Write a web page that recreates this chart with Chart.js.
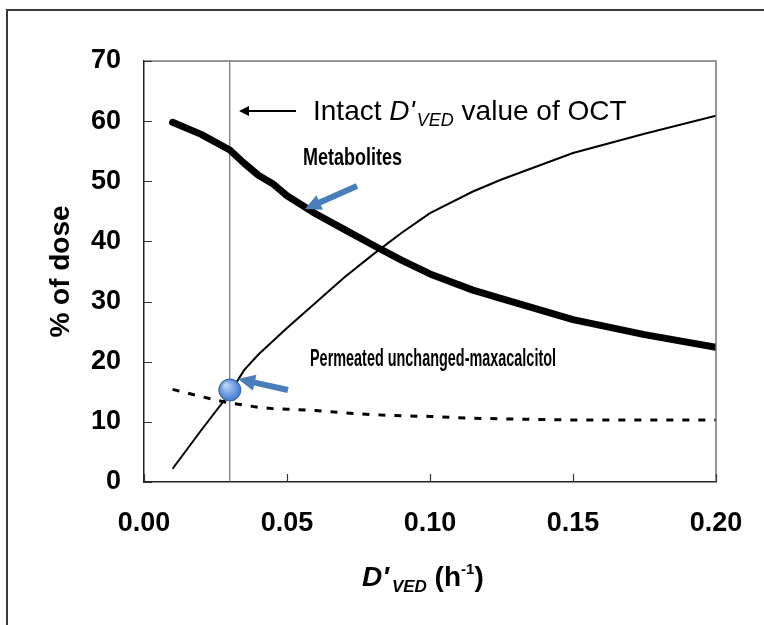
<!DOCTYPE html>
<html>
<head>
<meta charset="utf-8">
<script src="https://cdn.jsdelivr.net/npm/chart.js@4.4.1/dist/chart.umd.min.js"></script>
<style>
body{margin:0;background:#fff;}
canvas{display:block;}
</style>
</head>
<body>
<canvas id="mycanvas" width="764" height="625"></canvas>
<script>
// values
var dose = [0.01, 0.02, 0.03, 0.035, 0.04, 0.045, 0.05, 0.06, 0.07, 0.08, 0.09, 0.10, 0.115, 0.125, 0.15, 0.175, 0.20];
var metabolites = [59.8, 57.8, 55.2, 53.0, 51.0, 49.6, 47.6, 44.6, 42.0, 39.4, 36.9, 34.6, 31.9, 30.5, 27.0, 24.5, 22.4];
var permeated = [2.2, 8.6, 14.8, 18.6, 21.2, 23.4, 25.6, 29.8, 34.0, 37.8, 41.4, 44.7, 48.3, 50.3, 54.7, 57.9, 60.9];
var residual = [15.4, 14.2, 13.1, 12.8, 12.4, 12.2, 12.1, 11.9, 11.5, 11.2, 11.0, 10.9, 10.6, 10.5, 10.3, 10.3, 10.3];
var intactDose = 0.03;
var intactValue = 15.3;
var xTicks = [0, 0.05, 0.10, 0.15, 0.20];
var yTicks = [0, 10, 20, 30, 40, 50, 60, 70];

var FONT = '"Liberation Sans", Arial, sans-serif';

function pts(xs, ys){
	var out = [];
	for (var i in xs) out.push({x: xs[i], y: ys[i]});
	return out;
}

function blockArrow(ctx, x1, y1, x2, y2, shaft, head, headLen, color){
	var a = Math.atan2(y2 - y1, x2 - x1);
	var len = Math.hypot(x2 - x1, y2 - y1);
	ctx.save();
	ctx.translate(x1, y1);
	ctx.rotate(a);
	ctx.fillStyle = color;
	ctx.beginPath();
	ctx.moveTo(0, -shaft/2);
	ctx.lineTo(len - headLen, -shaft/2);
	ctx.lineTo(len - headLen, -head/2);
	ctx.lineTo(len, 0);
	ctx.lineTo(len - headLen, head/2);
	ctx.lineTo(len - headLen, shaft/2);
	ctx.lineTo(0, shaft/2);
	ctx.closePath();
	ctx.fill();
	ctx.restore();
}

function narrowText(ctx, txt, x, y, width, size){
	ctx.save();
	ctx.font = 'bold ' + size + 'px ' + FONT;
	var w = ctx.measureText(txt).width;
	ctx.translate(x, y);
	ctx.scale(width / w, 1);
	ctx.textBaseline = 'alphabetic';
	ctx.fillStyle = '#000';
	ctx.fillText(txt, 0, 0);
	ctx.restore();
}

var decor = {
	id: 'decor',
	beforeDraw: function(chart){
		var ctx = chart.ctx;
		ctx.save();
		ctx.fillStyle = '#fff';
		ctx.fillRect(0, 0, chart.width, chart.height);
		ctx.strokeStyle = '#3a3a3a';
		ctx.lineWidth = 2;
		ctx.strokeRect(7, 10, 900, 900);
		ctx.restore();
	},
	afterDatasetsDraw: function(chart){
		var ctx = chart.ctx;
		var a = chart.chartArea;
		var xs = chart.scales.x, ys = chart.scales.y;
		ctx.save();
		// top / right frame
		ctx.strokeStyle = '#777';
		ctx.lineWidth = 1.5;
		ctx.beginPath();
		ctx.moveTo(a.left, a.top);
		ctx.lineTo(a.right, a.top);
		ctx.lineTo(a.right, a.bottom);
		ctx.stroke();
		// inward ticks
		ctx.strokeStyle = '#333';
		ctx.lineWidth = 1.2;
		ctx.beginPath();
		yTicks.forEach(function(v){
			var py = Math.round(ys.getPixelForValue(v)) + 0.5;
			ctx.moveTo(a.left, py); ctx.lineTo(a.left + 8, py);
		});
		xTicks.forEach(function(v){
			var px = Math.round(xs.getPixelForValue(v)) + 0.5;
			ctx.moveTo(px, a.bottom); ctx.lineTo(px, a.bottom - 8);
		});
		ctx.stroke();

		// axis titles
		ctx.fillStyle = '#000';
		ctx.save();
		ctx.translate(61, (a.top + a.bottom) / 2);
		ctx.rotate(-Math.PI / 2);
		ctx.font = 'bold 28px ' + FONT;
		ctx.textAlign = 'center';
		ctx.textBaseline = 'middle';
		ctx.fillText('% of dose', 0, 0);
		ctx.restore();

		var x = 362, base = 586;
		ctx.textBaseline = 'alphabetic';
		ctx.font = 'italic bold 28px ' + FONT;
		ctx.fillText("D'", x, base); x += ctx.measureText("D'").width + 3;
		ctx.font = 'italic bold 17px ' + FONT;
		ctx.fillText('VED', x, base + 6); x += ctx.measureText('VED').width;
		ctx.font = 'bold 28px ' + FONT;
		ctx.fillText(' (h', x, base); x += ctx.measureText(' (h').width;
		ctx.font = 'bold 15px ' + FONT;
		ctx.fillText('-1', x, base - 12); x += ctx.measureText('-1').width;
		ctx.font = 'bold 28px ' + FONT;
		ctx.fillText(')', x, base);

		// intact D'VED note
		ctx.strokeStyle = '#000';
		ctx.lineWidth = 2;
		ctx.beginPath();
		ctx.moveTo(296, 111); ctx.lineTo(244, 111);
		ctx.stroke();
		ctx.beginPath();
		ctx.moveTo(239, 111); ctx.lineTo(249, 106); ctx.lineTo(249, 116); ctx.closePath();
		ctx.fill();
		x = 313; base = 120;
		ctx.font = '28px ' + FONT;
		ctx.fillText('Intact ', x, base); x += ctx.measureText('Intact ').width;
		ctx.font = 'italic 28px ' + FONT;
		ctx.fillText("D'", x, base); x += ctx.measureText("D'").width + 2;
		ctx.font = 'italic 18px ' + FONT;
		ctx.fillText('VED', x, base + 6); x += ctx.measureText('VED').width;
		ctx.font = '28px ' + FONT;
		ctx.fillText(' value of OCT', x, base);

		// series labels
		narrowText(ctx, 'Metabolites', 303, 165, 99, 24);
		narrowText(ctx, 'Permeated unchanged-maxacalcitol', 310, 366, 246, 24);

		blockArrow(ctx, 357, 186, 305, 209, 6, 16, 16, '#4a7ebb');
		blockArrow(ctx, 288, 390, 238, 379, 6, 16, 17, '#4a7ebb');
		ctx.restore();
	}
};

var ctx = document.getElementById('mycanvas').getContext('2d');
var chart = new Chart(ctx, {
	type: 'line',
	data: {
		datasets: [
		{
			label: 'intact',
			data: [{x: intactDose, y: intactValue}],
			showLine: false,
			pointRadius: 11,
			pointBorderWidth: 1,
			pointBorderColor: '#2f5f9e',
			pointBackgroundColor: function(c){
				var ch = c.chart;
				if (!ch.chartArea) return '#5b8fd6';
				var px = ch.scales.x.getPixelForValue(intactDose);
				var py = ch.scales.y.getPixelForValue(intactValue);
				var g = ch.ctx.createRadialGradient(px - 4, py - 5, 1, px, py, 12);
				g.addColorStop(0, '#b9d3f5');
				g.addColorStop(0.6, '#6a9be0');
				g.addColorStop(1, '#3d72c0');
				return g;
			}
		},
		{
			label: 'Metabolites',
			data: pts(dose, metabolites),
			borderColor: '#000',
			borderWidth: 7,
			borderCapStyle: 'round',
			borderJoinStyle: 'round',
			pointRadius: 0,
			tension: 0
		},
		{
			label: 'Permeated unchanged-maxacalcitol',
			data: pts(dose, permeated),
			borderColor: '#000',
			borderWidth: 2,
			pointRadius: 0,
			tension: 0
		},
		{
			label: 'Residual',
			data: pts(dose, residual),
			borderColor: '#000',
			borderWidth: 3,
			borderDash: [7, 9],
			pointRadius: 0,
			tension: 0
		},
		{
			label: 'Intact line',
			data: [{x: intactDose, y: 0}, {x: intactDose, y: 70}],
			borderColor: '#555',
			borderWidth: 1,
			pointRadius: 0
		}
		]
	},
	options: {
		responsive: false,
		animation: false,
		events: [],
		layout: {padding: {top: 61, right: 48, left: 0, bottom: 0}},
		plugins: {legend: {display: false}, tooltip: {enabled: false}},
		scales: {
			x: {
				type: 'linear',
				min: 0, max: 0.2,
				afterFit: function(s){ s.height = 143; },
				afterBuildTicks: function(s){ s.ticks = xTicks.map(function(v){ return {value: v}; }); },
				grid: {display: false},
				border: {display: true, color: '#222', width: 1.5},
				ticks: {
					font: {family: FONT, size: 27, weight: 'bold'},
					color: '#000',
					padding: 17,
					maxRotation: 0,
					callback: function(v){ return v.toFixed(2); }
				}
			},
			y: {
				min: 0, max: 70,
				afterFit: function(s){ s.width = 144; },
				afterBuildTicks: function(s){ s.ticks = yTicks.map(function(v){ return {value: v}; }); },
				grid: {display: false},
				border: {display: true, color: '#222', width: 1.5},
				ticks: {
					font: {family: FONT, size: 27, weight: 'bold'},
					color: '#000',
					padding: 15
				}
			}
		}
	},
	plugins: [decor]
});
</script>
</body>
</html>
